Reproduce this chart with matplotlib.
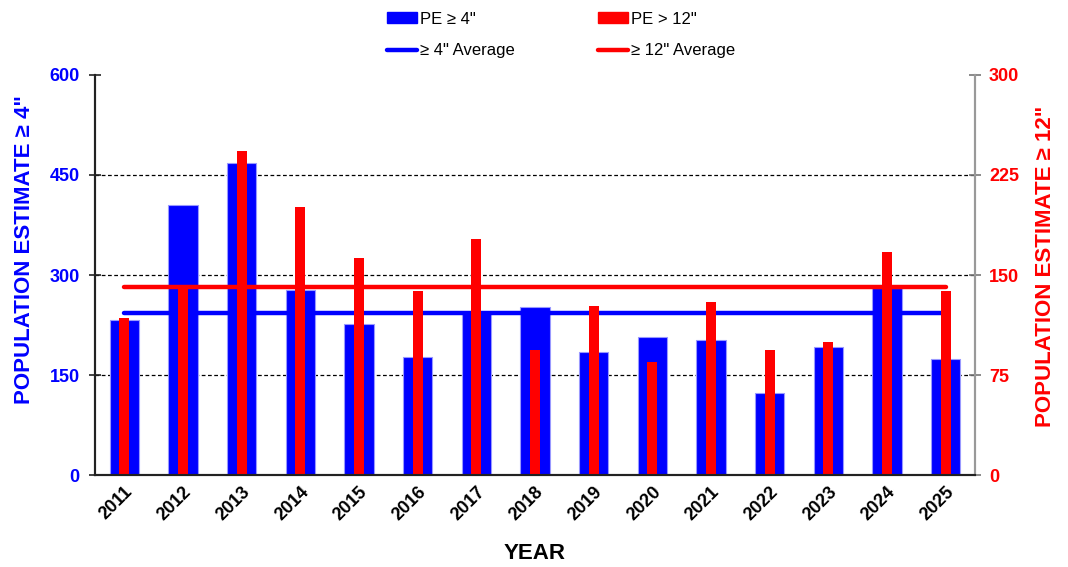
import matplotlib.pyplot as plt
from matplotlib.patches import Patch
from matplotlib.lines import Line2D
import numpy as np

plt.rcParams['font.family'] = ['Liberation Sans', 'DejaVu Sans']

years = ["2011", "2012", "2013", "2014", "2015", "2016", "2017", "2018",
         "2019", "2020", "2021", "2022", "2023", "2024", "2025"]
pe_4 = [233, 405, 468, 278, 226, 177, 245, 252, 184, 207, 202, 123, 192, 280, 174]
pe_12 = [118, 140, 243, 201, 163, 138, 177, 94, 127, 85, 130, 94, 100, 167, 138]

avg_4 = np.mean(pe_4)
avg_12 = np.mean(pe_12)

x = np.arange(len(years))

fig = plt.figure(figsize=(10.68, 5.67), dpi=100)
ax = fig.add_axes([95/1068, 1-475/567, 880/1068, 400/567])
ax2 = ax.twinx()

# left axis: PE >= 4
for v in [150, 300, 450]:
    ax.axhline(v, linestyle=(0, (3, 2)), color='black', linewidth=0.9, zorder=0)
ax.bar(x, pe_4, width=0.5, color='#0000ff', edgecolor='#9999ff', linewidth=0.8, zorder=2)
ax.plot([x[0], x[-1]], [avg_4, avg_4], color='#0000ff', linewidth=3.2,
        solid_capstyle='round', zorder=3)
ax.set_ylim(0, 600)
ax.set_yticks([0, 150, 300, 450, 600])
ax.set_xlim(-0.5, len(years) - 0.5)
ax.set_xticks(x)
ax.set_xticklabels(years, rotation=45, ha='right', rotation_mode='anchor',
                   fontsize=13, fontweight='bold')
ax.tick_params(axis='y', color='#222222', labelcolor='#0000ff', labelsize=13,
               direction='inout', length=8, width=1.2, pad=7)
for lab in ax.get_yticklabels():
    lab.set_fontweight('bold')
ax.tick_params(axis='x', length=0, pad=6)
ax.set_ylabel('POPULATION ESTIMATE \u2265 4"', color='#0000ff', fontsize=16,
              fontweight='bold')
ax.yaxis.set_label_coords(-0.068, 0.5625)
ax.set_xlabel('YEAR', fontsize=16, fontweight='bold', labelpad=14)

# right axis: PE > 12
ax2.bar(x, pe_12, width=0.17, color='#ff0000', zorder=2)
ax2.plot([x[0], x[-1]], [avg_12, avg_12], color='#ff0000', linewidth=3.2,
         solid_capstyle='round', zorder=3)
ax2.set_ylim(0, 300)
ax2.set_yticks([0, 75, 150, 225, 300])
ax2.tick_params(axis='y', color='#777777', labelcolor='#ff0000', labelsize=13,
                direction='inout', length=8, width=1.2, pad=6)
for lab in ax2.get_yticklabels():
    lab.set_fontweight('bold')
ax2.set_ylabel('POPULATION ESTIMATE \u2265 12"', color='#ff0000', fontsize=16,
               fontweight='bold')
ax2.yaxis.set_label_coords(1.068, 0.5225)

for a in (ax, ax2):
    a.spines['top'].set_visible(False)
    a.spines['left'].set_color('#222222')
    a.spines['left'].set_linewidth(1.5)
    a.spines['bottom'].set_color('#222222')
    a.spines['bottom'].set_linewidth(1.5)
    a.spines['right'].set_color('#999999')
    a.spines['right'].set_linewidth(1.5)

handles = [Patch(color='#0000ff'), Line2D([], [], color='#0000ff', linewidth=3.2, solid_capstyle='round'),
           Patch(color='#ff0000'), Line2D([], [], color='#ff0000', linewidth=3.2, solid_capstyle='round')]
labels = ['PE \u2265 4"', '\u2265 4" Average', 'PE > 12"', '\u2265 12" Average']
fig.legend(handles, labels, ncol=2, loc='upper left', bbox_to_anchor=(372/1068, 1.006),
           frameon=False, fontsize=12, handlelength=1.8, handleheight=0.6,
           handletextpad=0.15, columnspacing=5.05, labelspacing=1.0)

fig.savefig('out.png', dpi=100)
